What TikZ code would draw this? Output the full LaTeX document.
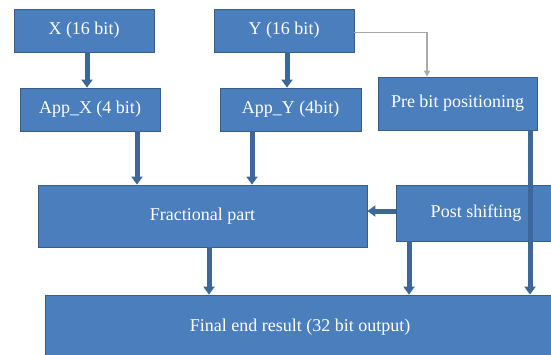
\documentclass[tikz,border=0pt]{standalone}
\usepackage{fontspec}
\setmainfont{Liberation Serif}
\usetikzlibrary{arrows.meta, calc}

\definecolor{boxfill}{RGB}{74,126,189}
\definecolor{boxline}{RGB}{56,93,138}
\definecolor{linkgrey}{RGB}{170,170,170}

\begin{document}
\begin{tikzpicture}[x=1pt, y=-1pt,
  block/.style={draw=boxline, line width=0.8pt, fill=boxfill, text=white, inner sep=0pt,
    font=\fontsize{18}{20}\selectfont},
  thickarrow/.style={draw=boxline!70!boxfill, line width=5pt, -{Triangle[length=8pt, width=11pt]}},
  greyarrow/.style={draw=linkgrey, line width=1.3pt, -{Triangle[length=6pt, width=6pt]}}]
  \useasboundingbox (0,0) rectangle (551,354);
  \clip (0,0) rectangle (551,354);
  % blocks
  \node[block, minimum width=140pt, minimum height=43pt] (X) at (84,30.5) {X (16 bit)};
  \node[block, minimum width=140pt, minimum height=43pt] (appx) at (90,109.5) {App\_X (4 bit)};
  \node[block, minimum width=140pt, minimum height=43pt] (Y) at (284,30.5) {Y (16 bit)};
  \node[block, minimum width=141pt, minimum height=43pt] (appy) at (290.5,109.5) {App\_Y (4bit)};
  \node[block, minimum width=159pt, minimum height=53pt] (pre) at (457.5,103.5) {Pre bit positioning};
  \node[block, minimum width=329pt, minimum height=62pt] (frac) at (202.5,216) {Fractional part};
  \node[block, minimum width=160pt, minimum height=56pt] (post) at (476,213) {Post shifting};
  \node[block, minimum width=510pt, minimum height=64pt] (final) at (300,327) {Final end result (32 bit output)};
  % connectors
  \draw[thickarrow] ([xshift=3pt]X.south) -- ([xshift=3pt]X.south |- appx.north);
  \draw[thickarrow] ([xshift=3pt]Y.south) -- ([xshift=3pt]Y.south |- appy.north);
  \draw[thickarrow] ([xshift=47pt]appx.south) -- ([xshift=47pt]appx.south |- frac.north);
  \draw[thickarrow] ([xshift=-38.5pt]appy.south) -- ([xshift=-38.5pt]appy.south |- frac.north);
  \draw[greyarrow] ([yshift=-2pt]Y.east) -| ([xshift=-30.5pt]pre.north);
  \draw[thickarrow] ([yshift=2pt]post.west) -- ([yshift=2pt]post.west -| frac.east);
  \draw[thickarrow] ([xshift=6.5pt]frac.south) -- ([xshift=6.5pt]frac.south |- final.north);
  \draw[thickarrow] ([xshift=-67pt]post.south) -- ([xshift=-67pt]post.south |- final.north);
  \draw[thickarrow] ([xshift=72.5pt]pre.south) -- ([xshift=72.5pt]pre.south |- final.north);
\end{tikzpicture}
\end{document}
